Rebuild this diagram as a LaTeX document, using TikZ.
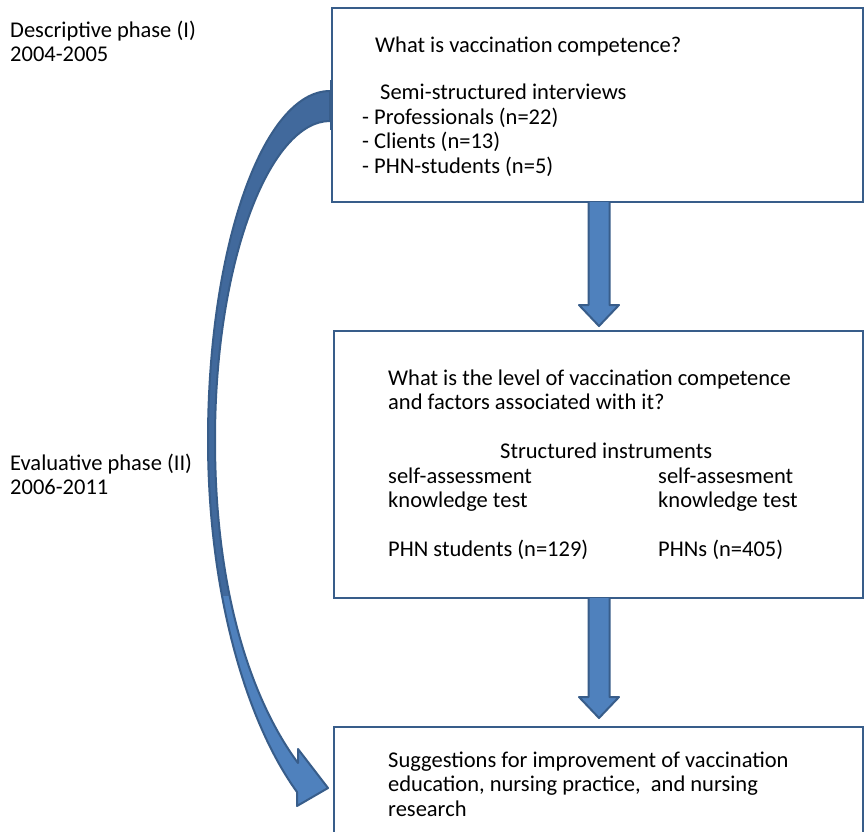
\documentclass[tikz,border=0pt]{standalone}
\usepackage{fontspec}
\setmainfont{Carlito}
\definecolor{boxline}{HTML}{385D8A}
\definecolor{arrowfill}{HTML}{4F81BD}
\definecolor{arrowdark}{HTML}{41699C}
\begin{document}
\begin{tikzpicture}[x=1pt,y=-1pt,
  phasebox/.style={draw=boxline,line width=2.4pt,fill=white},
  txt/.style={anchor=base west,inner sep=0pt,font=\fontsize{22.5}{24.5}\selectfont,align=left},
  downarrow/.style={fill=arrowfill,draw=boxline,line width=2pt,line join=round}]
\useasboundingbox (0,0) rectangle (865,831);
\fill[white] (0,0) rectangle (865,831);

% boxes
\node[phasebox,minimum width=531pt,minimum height=194pt,anchor=north west] (b1) at (331,7) {};
\node[phasebox,minimum width=529pt,minimum height=267pt,anchor=north west] (b2) at (333,330) {};
\node[phasebox,minimum width=529pt,minimum height=140pt,anchor=north west] (b3) at (333,726) {};

% straight down arrows
\coordinate (a1s) at (599,202);
\coordinate (a1t) at (599,326);
\draw[downarrow] ([xshift=-10.5pt]a1s) -- ([xshift=-10.5pt,yshift=21pt]a1t) -- ([xshift=-20pt,yshift=21pt]a1t) -- (a1t)
  -- ([xshift=20pt,yshift=21pt]a1t) -- ([xshift=10.5pt,yshift=21pt]a1t) -- ([xshift=10.5pt]a1s);
\coordinate (a2s) at (599,598);
\coordinate (a2t) at (599,718);
\draw[downarrow] ([xshift=-10.5pt]a2s) -- ([xshift=-10.5pt,yshift=21pt]a2t) -- ([xshift=-20pt,yshift=21pt]a2t) -- (a2t)
  -- ([xshift=20pt,yshift=21pt]a2t) -- ([xshift=10.5pt,yshift=21pt]a2t) -- ([xshift=10.5pt]a2s);

% curved arrow
\def\curvedpath{(330,91) .. controls (263,91) and (208,247) .. (208,440)
  .. controls (208,590) and (245,720) .. (297,792)
  -- (297,806) -- (328,788) -- (298,749) -- (298,763)
  .. controls (255,705) and (215,600) .. (215,440)
  .. controls (215,260) and (270,121) .. (330,121) -- cycle}
\fill[arrowfill] \curvedpath;
\begin{scope}
  \clip (150,60) rectangle (340,595);
  \fill[arrowdark] \curvedpath;
\end{scope}
\draw[boxline,line width=2pt,line join=round] \curvedpath;
\draw[boxline,line width=2.4pt] (331,80) -- (331,130);

% phase labels
\node[txt] (p1) at (10,61.5) {Descriptive phase (I)\\2004-2005};
\node[txt] (p2) at (10,494.5) {Evaluative phase (II)\\2006-2011};

% box 1 text
\node[txt] (t1a) at (375,52) {What is vaccination competence?};
\node[txt] (t1b) at (380,99) {Semi-structured interviews};
\node[txt] (t1c) at (362,173) {- Professionals (n=22)\\- Clients (n=13)\\- PHN-students (n=5)};

% box 2 text
\node[txt] (t2a) at (388,409.5) {What is the level of vaccination competence\\and factors associated with it?};
\node[txt] (t2b) at (500,458) {Structured instruments};
\node[txt] (t2c) at (388,507.5) {self-assessment\\knowledge test};
\node[txt] (t2d) at (658,507.5) {self-assesment\\knowledge test};
\node[txt] (t2e) at (388,556) {PHN students (n=129)};
\node[txt] (t2f) at (658,556) {PHNs (n=405)};

% box 3 text
\node[txt] (t3) at (388,816) {Suggestions for improvement of vaccination\\education, nursing practice,~ and nursing\\research};
\end{tikzpicture}
\end{document}
